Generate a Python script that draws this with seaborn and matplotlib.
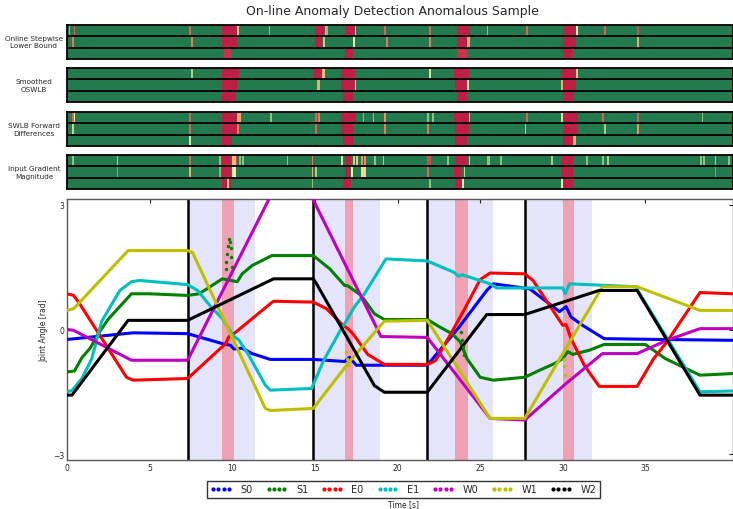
import numpy as np
import matplotlib
matplotlib.use("Agg")
import matplotlib.pyplot as plt
from matplotlib.colors import LinearSegmentedColormap
from matplotlib.lines import Line2D
import seaborn as sns

sns.set_style("white")
plt.rcParams['font.family'] = ['DejaVu Sans']

# -----------------------------
# joint trajectories (key points)
# -----------------------------
joints = ["S0", "S1", "E0", "E1", "W0", "W1", "W2"]
colors = ["b", "g", "r", "c", "m", "y", "k"]

s0_t = [0, 2.0, 4.0, 7.3, 9.4, 9.9, 10.1, 10.6, 11.2, 12.3, 14.9, 16.8, 17.1, 17.5, 21.8,
        23.75, 25.4, 25.8, 28.0, 29.8, 30.2, 30.5, 31.2, 32.5, 35.9, 40.3]
s0_y = [-0.24, -0.16, -0.08, -0.1, -0.34, -0.38, -0.47, -0.45, -0.58, -0.72, -0.72, -0.77, -0.67,
        -0.86, -0.86, 0.07, 0.94, 1.1, 0.98, 0.43, 0.55, 0.3, 0.1, -0.22, -0.24, -0.26]

s1_t = [0, 0.45, 0.9, 1.4, 1.9, 2.5, 3.9, 5.0, 7.3, 8.0, 9.4, 10.3, 10.6, 11.2, 12.4, 14.9,
        15.9, 16.8, 17.0, 17.8, 18.6, 19.2, 21.8, 22.6, 23.3, 23.8, 24.2, 25.0, 25.8, 27.7,
        28.6, 29.5, 30.0, 30.3, 30.6, 31.6, 32.5, 35.0, 36.2, 38.3, 40.3]
s1_y = [-1.02, -1.0, -0.68, -0.45, -0.1, 0.25, 0.86, 0.86, 0.82, 0.86, 1.22, 1.15, 1.34, 1.54,
        1.78, 1.78, 1.46, 1.06, 1.05, 0.82, 0.38, 0.24, 0.24, 0.05, -0.1, -0.3, -0.7, -1.15,
        -1.22, -1.15, -0.98, -0.82, -0.7, -0.53, -0.6, -0.5, -0.36, -0.36, -0.7, -1.1, -1.06]

e0_t = [0, 0.4, 0.8, 3.6, 4.0, 7.3, 9.6, 9.8, 10.1, 12.3, 12.5, 14.9, 15.7, 16.7, 17.0, 17.3,
        18.2, 19.2, 21.8, 22.3, 23.3, 24.0, 25.0, 25.6, 27.7, 28.2, 30.0, 30.2, 30.5, 31.3,
        32.2, 34.5, 35.5, 36.3, 38.3, 40.3]
e0_y = [0.86, 0.82, 0.6, -1.15, -1.22, -1.18, -0.34, -0.17, -0.1, 0.62, 0.68, 0.66, 0.5, 0.1,
        0.02, -0.1, -0.6, -0.84, -0.84, -0.75, -0.05, 0.45, 1.2, 1.36, 1.34, 1.18, 0.1, 0.12,
        -0.22, -0.86, -1.37, -1.37, -0.7, -0.3, 0.89, 0.86]

e1_t = [0, 0.3, 0.9, 1.5, 2.1, 3.2, 3.9, 4.4, 7.3, 7.9, 8.7, 9.4, 9.9, 10.1, 10.4, 11.0, 12.0,
        12.3, 14.8, 15.5, 16.5, 16.8, 17.4, 18.0, 19.3, 21.8, 23.4, 23.7, 23.9, 25.6, 26.0,
        30.0, 30.15, 30.4, 34.4, 38.3, 40.3]
e1_y = [-1.5, -1.47, -1.18, -0.7, 0.2, 0.94, 1.15, 1.18, 1.08, 0.94, 0.55, 0.26, -0.05, -0.17,
        -0.25, -0.62, -1.34, -1.46, -1.42, -0.77, -0.05, 0.14, 0.55, 0.86, 1.7, 1.65, 1.38,
        1.28, 1.32, 1.1, 1.0, 1.0, 0.86, 1.1, 1.03, -1.5, -1.48]

w0_t = [0, 0.4, 3.9, 7.3, 12.3, 14.8, 19.0, 21.8, 25.6, 27.7, 30.2, 32.4, 34.5, 36.3, 38.3, 40.3]
w0_y = [0.0, -0.02, -0.74, -0.74, 3.2, 3.2, -0.17, -0.19, -2.14, -2.18, -1.3, -0.58, -0.58,
        -0.26, 0.02, 0.02]

w1_t = [0, 0.4, 3.7, 7.3, 7.6, 12.0, 12.3, 14.9, 17.1, 19.2, 21.8, 25.6, 27.7, 30.0, 32.4,
        34.5, 38.3, 40.3]
w1_y = [0.46, 0.5, 1.9, 1.9, 1.85, -1.9, -1.95, -1.9, -0.77, 0.2, 0.22, -2.14, -2.14, -0.58,
        1.03, 1.03, 0.46, 0.46]

w2_t = [0, 0.3, 3.7, 7.3, 12.5, 14.9, 15.1, 18.6, 19.2, 21.8, 25.4, 27.7, 32.2, 34.5, 38.3, 40.3]
w2_y = [-1.58, -1.58, 0.22, 0.22, 1.22, 1.22, 1.1, -1.35, -1.51, -1.51, 0.36, 0.36, 0.94,
        0.94, -1.58, -1.58]

traj_t = [s0_t, s1_t, e0_t, e1_t, w0_t, w1_t, w2_t]
traj_y = [s0_y, s1_y, e0_y, e1_y, w0_y, w1_y, w2_y]

# scattered samples inside the anomalies
s1_dot_t = [9.6, 9.65, 9.7, 9.75, 9.8, 9.85, 9.9, 9.95, 10.0, 23.85, 23.9, 23.95, 24.0]
s1_dot_y = [1.45, 1.62, 1.82, 2.0, 2.18, 2.1, 1.95, 1.75, 1.5, -0.05, -0.26, -0.41, -0.62]
w1_dot_t = [16.9, 16.95, 17.0, 30.05, 30.1, 30.15]
w1_dot_y = [-0.55, -0.7, -0.86, -0.7, -0.89, -1.1]

# segmentation
seg_starts = [7.3, 14.87, 21.77, 27.7]
seg_ends = [11.4, 18.95, 25.8, 31.75]
anom_starts = [9.4, 16.85, 23.5, 30.0]
anom_ends = [10.12, 17.3, 24.25, 30.7]

# -----------------------------
# detector heat strips: (start [s], end [s], level) per row
# -----------------------------
panel_names = ["Online Stepwise\nLower Bound", "Smoothed\nOSWLB",
               "SWLB Forward\nDifferences", "Input Gradient\nMagnitude"]

oswlb = [
    [(0.1, 0.2, 0.35), (0.4, 0.5, 0.85), (7.4, 7.5, 0.85), (9.4, 10.3, 1.0), (10.3, 10.4, 0.6),
     (12.2, 12.3, 0.35), (15.0, 15.6, 1.0), (15.6, 15.7, 0.65), (15.7, 15.8, 0.35),
     (16.8, 17.4, 1.0), (17.4, 17.5, 0.65), (19.2, 19.3, 0.85), (21.9, 22.0, 0.85),
     (23.6, 24.4, 1.0), (25.4, 25.5, 0.35), (27.8, 27.9, 0.85), (30.0, 30.8, 1.0),
     (30.8, 30.9, 0.55), (32.5, 32.6, 0.85), (34.5, 34.6, 0.9)],
    [(0.3, 0.4, 0.8), (7.5, 7.6, 0.8), (9.4, 10.3, 1.0), (15.0, 15.4, 1.0), (15.5, 15.6, 0.65),
     (17.3, 17.4, 0.55), (19.3, 19.4, 0.8), (21.9, 22.0, 0.8), (23.6, 24.2, 1.0),
     (24.2, 24.4, 0.7), (30.0, 30.8, 1.0), (34.5, 34.6, 0.7)],
    [(9.5, 9.9, 0.95), (16.8, 17.3, 1.0), (23.6, 24.2, 0.95), (30.0, 30.6, 1.0)],
]
smoothed = [
    [(7.5, 7.6, 0.4), (9.4, 10.4, 1.0), (14.9, 15.4, 1.0), (15.4, 15.6, 0.65), (16.6, 17.4, 1.0),
     (21.9, 22.0, 0.5), (23.4, 24.3, 1.0), (29.9, 30.8, 1.0), (30.8, 30.9, 0.65)],
    [(9.4, 10.3, 1.0), (15.1, 15.3, 0.7), (16.6, 17.4, 1.0), (17.4, 17.5, 0.6), (23.5, 24.2, 1.0),
     (24.2, 24.3, 0.55), (29.9, 30.0, 0.7), (30.0, 30.8, 1.0)],
    [(9.4, 10.2, 1.0), (16.7, 17.3, 1.0), (23.6, 24.2, 1.0), (30.0, 30.7, 1.0)],
]
fwd_diff = [
    [(0.3, 0.4, 0.85), (0.4, 0.5, 0.55), (7.4, 7.5, 0.85), (9.4, 10.3, 1.0), (10.3, 10.5, 0.7),
     (12.3, 12.4, 0.35), (15.0, 15.1, 0.85), (15.2, 15.3, 0.8), (16.6, 17.5, 1.0),
     (17.9, 18.0, 0.35), (18.5, 18.6, 0.35), (19.2, 19.3, 0.75), (21.8, 21.9, 0.35),
     (22.1, 22.2, 0.35), (23.4, 24.3, 1.0), (24.3, 24.4, 0.7), (27.8, 27.9, 0.85),
     (29.9, 30.0, 0.5), (30.0, 30.9, 1.0), (32.4, 32.5, 0.85), (34.5, 34.6, 0.85),
     (38.4, 38.5, 0.35)],
    [(0.3, 0.4, 0.45), (7.4, 7.5, 0.85), (9.4, 10.3, 1.0), (10.3, 10.4, 0.8), (15.0, 15.1, 0.85),
     (16.6, 17.3, 1.0), (19.2, 19.3, 0.8), (21.8, 21.9, 0.8), (23.5, 24.3, 1.0),
     (27.7, 27.8, 0.4), (30.0, 30.9, 1.0), (32.5, 32.6, 0.4), (34.5, 34.6, 0.75)],
    [(7.4, 7.5, 0.5), (9.4, 10.0, 1.0), (16.7, 17.3, 1.0), (23.5, 24.2, 1.0), (30.0, 30.6, 1.0),
     (30.6, 30.8, 0.7)],
]
grad_mag = [
    [(0.3, 0.4, 0.35), (3.0, 3.1, 0.4), (7.4, 7.5, 0.85), (9.2, 9.3, 0.35), (9.4, 9.9, 1.0),
     (10.0, 10.2, 0.65), (10.2, 10.3, 0.9), (10.4, 10.5, 0.35), (10.6, 10.7, 0.35),
     (13.3, 13.4, 0.35), (14.8, 14.9, 0.8), (16.6, 16.7, 0.5), (16.8, 17.2, 1.0),
     (17.3, 17.4, 0.65), (17.5, 17.6, 0.45), (17.8, 17.9, 0.75), (18.0, 18.1, 0.75),
     (18.6, 18.7, 0.35), (19.1, 19.2, 0.4), (21.8, 22.0, 0.9), (23.0, 23.1, 0.35),
     (23.5, 24.2, 1.0), (24.3, 24.4, 0.45), (25.4, 25.6, 0.35), (26.2, 26.3, 0.35),
     (29.3, 29.4, 0.4), (29.9, 30.6, 1.0), (31.4, 31.5, 0.35), (32.4, 32.5, 0.35),
     (32.7, 32.8, 0.4), (38.3, 38.4, 0.35), (38.5, 38.6, 0.35), (39.2, 39.3, 0.4),
     (40.0, 40.1, 0.35)],
    [(3.0, 3.1, 0.25), (7.4, 7.5, 0.7), (9.2, 9.3, 0.3), (9.4, 9.9, 1.0), (10.0, 10.2, 0.55),
     (14.8, 14.9, 0.7), (15.0, 15.1, 0.4), (16.8, 17.1, 1.0), (17.2, 17.3, 0.55),
     (17.8, 18.1, 0.6), (21.8, 21.9, 0.85), (23.4, 23.9, 1.0), (24.0, 24.1, 0.45),
     (29.9, 30.6, 1.0), (39.2, 39.3, 0.25)],
    [(9.4, 9.9, 1.0), (9.7, 9.8, 0.6), (14.8, 14.9, 0.35), (16.7, 17.2, 1.0), (21.9, 22.0, 0.35),
     (23.5, 24.0, 1.0), (23.9, 24.0, 0.55), (29.9, 30.0, 0.55), (30.0, 30.6, 1.0)],
]
panels = [oswlb, smoothed, fwd_diff, grad_mag]

t_end = 40.3
n_bins = int(round(t_end * 10))


def build_strip(rows):
    mat = np.zeros((3, n_bins))
    for i, events in enumerate(rows):
        for a, b, v in events:
            mat[i, int(round(a * 10)):int(round(b * 10))] = v
    return mat


cmap = LinearSegmentedColormap.from_list(
    "det", [(0.0, "#247a4f"), (0.35, "#8cc47c"), (0.55, "#f2eca6"),
            (0.72, "#f2a15e"), (1.0, "#bd1f47")])

# -----------------------------
# figure
# -----------------------------
fig = plt.figure(figsize=(7.33, 5.10), dpi=100)
left, width = 67 / 733, 666 / 733
strip_px = [(26, 60), (69, 103), (113, 147), (156, 190)]

for (top, bot), name, rows in zip(strip_px, panel_names, panels):
    axh = fig.add_axes([left, 1 - bot / 510, width, (bot - top) / 510])
    sns.heatmap(build_strip(rows), ax=axh, cmap=cmap, vmin=0, vmax=1, cbar=False,
                xticklabels=False, yticklabels=False, rasterized=True)
    axh.set_xlim(0, n_bins)
    for yy in (1, 2):
        axh.axhline(yy, color="k", lw=1.3)
    for s in axh.spines.values():
        s.set_visible(True)
        s.set_color("k")
        s.set_linewidth(1.3)
    fig.text(34 / 733, 1 - (top + bot) / 2 / 510, name, ha="center", va="center",
             fontsize=5.2, linespacing=1.2)

ax = fig.add_axes([left, 1 - 461 / 510, width, 261 / 510])
for s, e in zip(seg_starts, seg_ends):
    ax.axvspan(s, e, color="#e4e4fa", lw=0, zorder=0)
for s, e in zip(anom_starts, anom_ends):
    ax.axvspan(s, e, color="#eea2b3", lw=0, zorder=1)
for s in seg_starts:
    ax.axvline(s, color="k", lw=1.8, zorder=1.5)

for tt, yy, c in zip(traj_t, traj_y, colors):
    sns.lineplot(x=tt, y=yy, color=c, lw=2.2, ax=ax, sort=False, estimator=None, zorder=3)
sns.scatterplot(x=s1_dot_t, y=s1_dot_y, color="g", s=6, linewidth=0, ax=ax, zorder=4)
sns.scatterplot(x=w1_dot_t, y=w1_dot_y, color="y", s=6, linewidth=0, ax=ax, zorder=4)

ax.set_xlim(0, t_end)
ax.set_ylim(-np.pi, np.pi)
ax.set_xticks([0, 5, 10, 15, 20, 25, 30, 35])
ax.set_yticks([-3, 0, 3])
ax.tick_params(direction="in", top=True, right=True, length=3, width=0.8,
               labelsize=5.5, pad=2, colors="0.15")
for s in ax.spines.values():
    s.set_color("0.35")
    s.set_linewidth(1.0)
ax.set_ylabel("Joint Angle [rad]", fontsize=5.5, labelpad=3)

handles = [Line2D([], [], color=c, marker=".", ls="none", markersize=4) for c in colors]
leg = ax.legend(handles, joints, loc="upper center", bbox_to_anchor=(0.505, -0.062), ncol=7,
                numpoints=4, fontsize=7, frameon=True, fancybox=False, edgecolor="k",
                handlelength=2.2, columnspacing=1.35, handletextpad=0.9, borderpad=0.35)
leg.get_frame().set_linewidth(1.0)

fig.text(403 / 733, 1 - 505 / 510, "Time [s]", ha="center", va="center", fontsize=5.5)
fig.text(392 / 733, 1 - 11 / 510, "On-line Anomaly Detection Anomalous Sample",
         ha="center", va="center", fontsize=9)

fig.savefig("out.png", dpi=100)
